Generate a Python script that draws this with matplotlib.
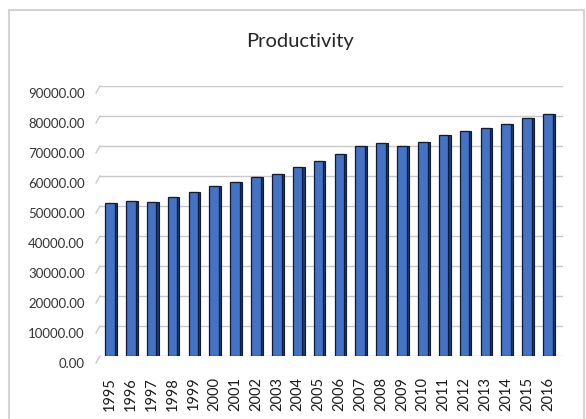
import matplotlib
matplotlib.use('Agg')
import matplotlib.pyplot as plt
import matplotlib.transforms as mtransforms
from matplotlib.patches import Rectangle

# Данные (оценены по картинке)
years = [str(y) for y in range(1995, 2017)]
productivity = [51000, 51600, 51300, 53000, 54500, 56600, 58000, 59800,
                60700, 62900, 65100, 67300, 70000, 71000, 70000, 71400,
                73600, 75000, 75900, 77400, 79400, 80700]
y_ticks = [0, 10000, 20000, 30000, 40000, 50000, 60000, 70000, 80000, 90000]

plt.rcParams['font.family'] = ['Lato', 'DejaVu Sans']

fig = plt.figure(figsize=(5.86, 4.19), dpi=100)
ax = fig.add_axes([0.1706, 0.1504, 0.7901, 0.6444])

# рамка графика
fig.patches.append(Rectangle((0.015, -0.01), 0.982, 0.986, transform=fig.transFigure,
                             fill=False, edgecolor='#d4d4d4', linewidth=1.5))

x = list(range(len(years)))
# "3D" боковая грань — тёмная полоска справа
ax.bar([i + 0.08 for i in x], productivity, width=0.5, color='#1f3a7a',
       edgecolor='#0d1a3a', linewidth=0.8, zorder=2)
ax.bar(x, productivity, width=0.46, color='#4472C4', edgecolor='#0d1a3a',
       linewidth=0.9, zorder=3)

ax.set_xlim(-0.48, 21.72)
ax.set_ylim(0, 90000)
ax.set_yticks(y_ticks)
ax.set_yticklabels([f'{v:.2f}' for v in y_ticks], fontsize=9.5, color='#333333')
ax.set_xticks(x)
ax.set_xticklabels(years, rotation=90, fontsize=10.5, color='#1a1a1a')
ax.tick_params(axis='y', length=0, pad=11)
ax.tick_params(axis='x', length=0, pad=15)

# подписи оси Y чуть ниже линий (передний край "пола")
shift = mtransforms.ScaledTranslation(0, -7 / 100, fig.dpi_scale_trans)
for lbl in ax.get_yticklabels():
    lbl.set_transform(lbl.get_transform() + shift)

ax.grid(axis='y', color='#c8c8c8', linewidth=1.0, zorder=0)
ax.set_axisbelow(True)
for s in ax.spines.values():
    s.set_visible(False)

# наклонные концы линий сетки (имитация 3D)
for v in y_ticks:
    ax.plot([-0.67, -0.48], [v - 2300, v], color='#c8c8c8', linewidth=1.0,
            clip_on=False, zorder=0)

fig.text(0.512, 0.9, 'Productivity', ha='center', va='center',
         fontsize=14.5, color='#262626')

fig.savefig('out.png', dpi=100)
